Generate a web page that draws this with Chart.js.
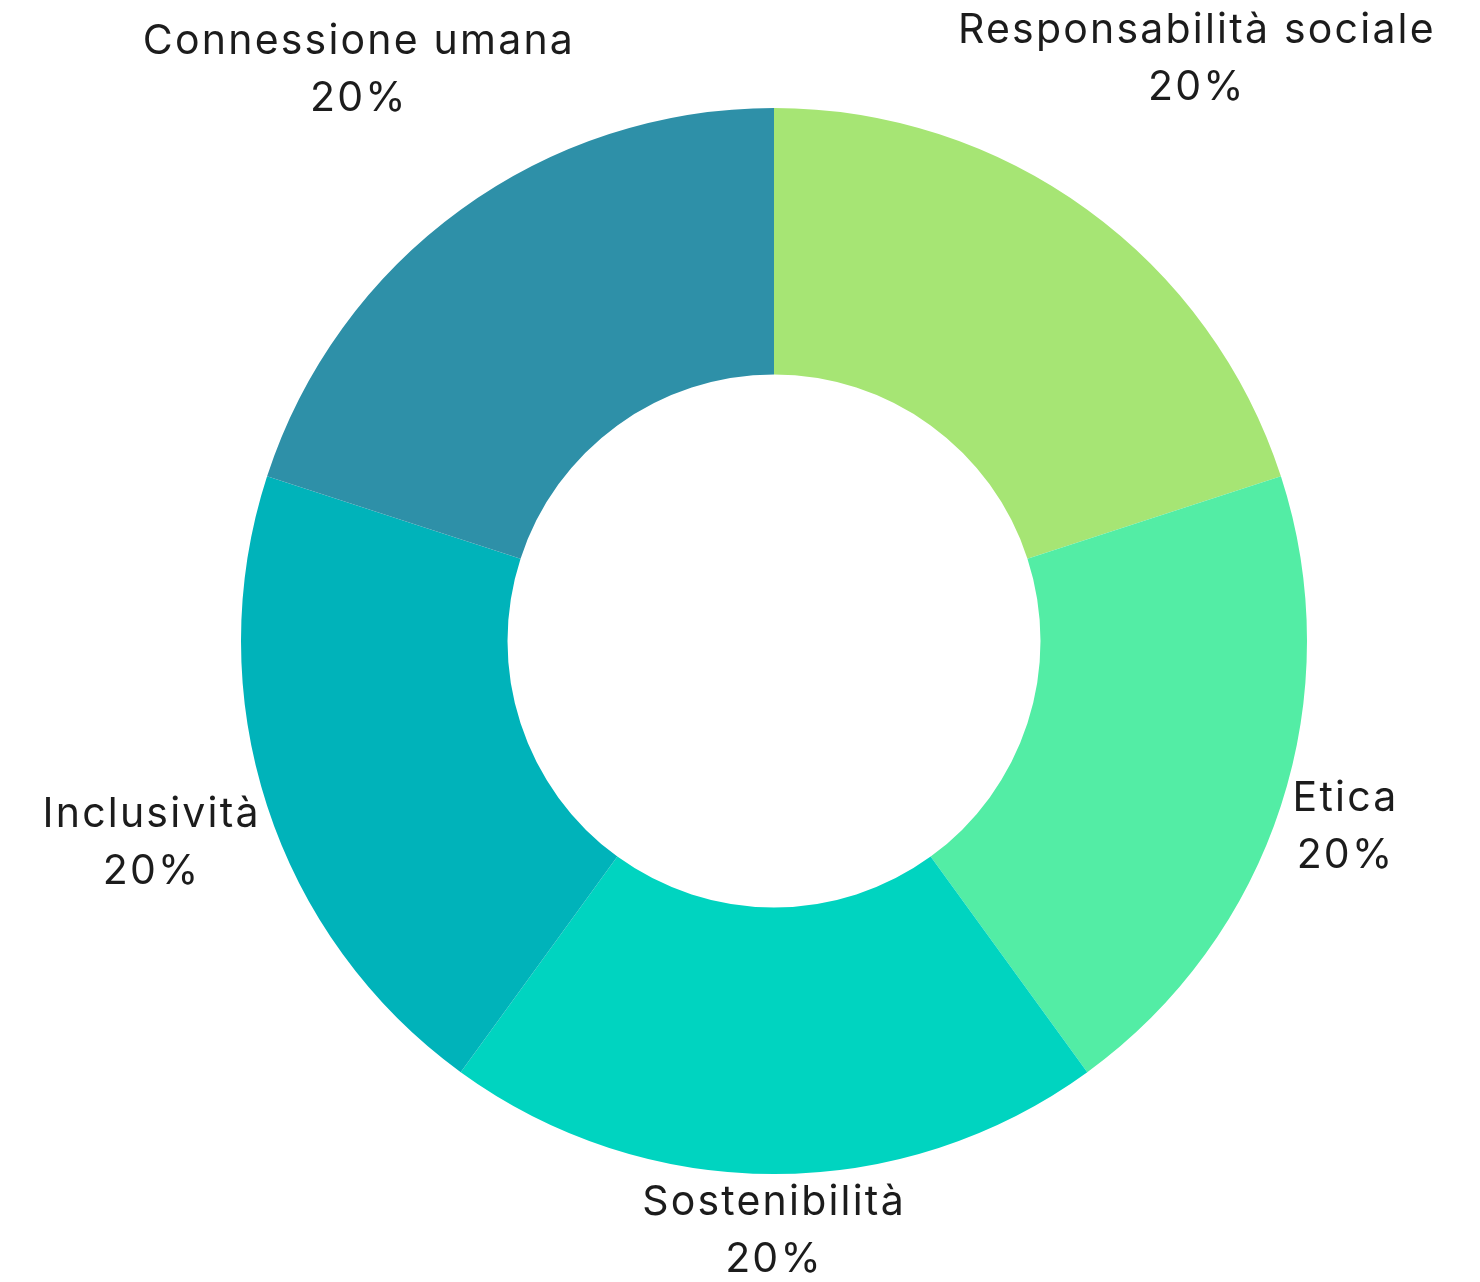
<!DOCTYPE html>
<html>
<head>
<meta charset="utf-8">
<script src="https://cdn.jsdelivr.net/npm/chart.js@4/dist/chart.umd.min.js"></script>
<style>
  html, body { margin: 0; padding: 0; background: #fff; }
  #wrap { width: 1480px; height: 1282px; }
</style>
</head>
<body>
<div id="wrap"><canvas id="donutChart"></canvas></div>
<script>
const categories = ["Responsabilità sociale", "Etica", "Sostenibilità", "Inclusività", "Connessione umana"];
const shares = [20, 20, 20, 20, 20];
const segmentColors = ["#a6e574", "#53eda5", "#00d4c0", "#00b3ba", "#2e90a8"];

const FONT = "41px Inter";
const SPACING = "2.2px";
const LINE_H = 57;

// draws "name / xx%" outside each slice
const outerLabels = {
  id: "outerLabels",
  afterDatasetsDraw(chart) {
    const ctx = chart.ctx;
    const meta = chart.getDatasetMeta(0);
    const total = shares.reduce((a, b) => a + b, 0);
    ctx.save();
    ctx.font = FONT;
    ctx.letterSpacing = SPACING;
    ctx.fillStyle = "#1c1c1c";
    ctx.textAlign = "center";
    ctx.textBaseline = "middle";
    meta.data.forEach((arc, i) => {
      const p = arc.getProps(["x", "y", "startAngle", "endAngle", "outerRadius"], true);
      const mid = (p.startAngle + p.endAngle) / 2;
      const dx = Math.cos(mid), dy = Math.sin(mid);
      const lines = [categories[i], Math.round(shares[i] / total * 100) + "%"];
      const w = Math.max(...lines.map(l => ctx.measureText(l).width));
      const h = lines.length * LINE_H;
      const r = p.outerRadius + Math.abs(dx) * w / 2 + Math.abs(dy) * h / 2;
      const cx = p.x + dx * r;
      const cy = p.y + dy * r;
      lines.forEach((l, j) => {
        ctx.fillText(l, cx, cy - h / 2 + LINE_H * (j + 0.5));
      });
    });
    ctx.restore();
  }
};

new Chart(document.getElementById("donutChart").getContext("2d"), {
  type: "doughnut",
  data: {
    labels: categories,
    datasets: [{
      data: shares,
      backgroundColor: segmentColors,
      borderWidth: 0
    }]
  },
  options: {
    responsive: true,
    maintainAspectRatio: false,
    animation: false,
    cutout: "50%",
    layout: { padding: { left: 241, right: 173, top: 108, bottom: 108 } },
    plugins: {
      legend: { display: false },
      tooltip: { enabled: false }
    }
  },
  plugins: [outerLabels]
});
</script>
</body>
</html>
